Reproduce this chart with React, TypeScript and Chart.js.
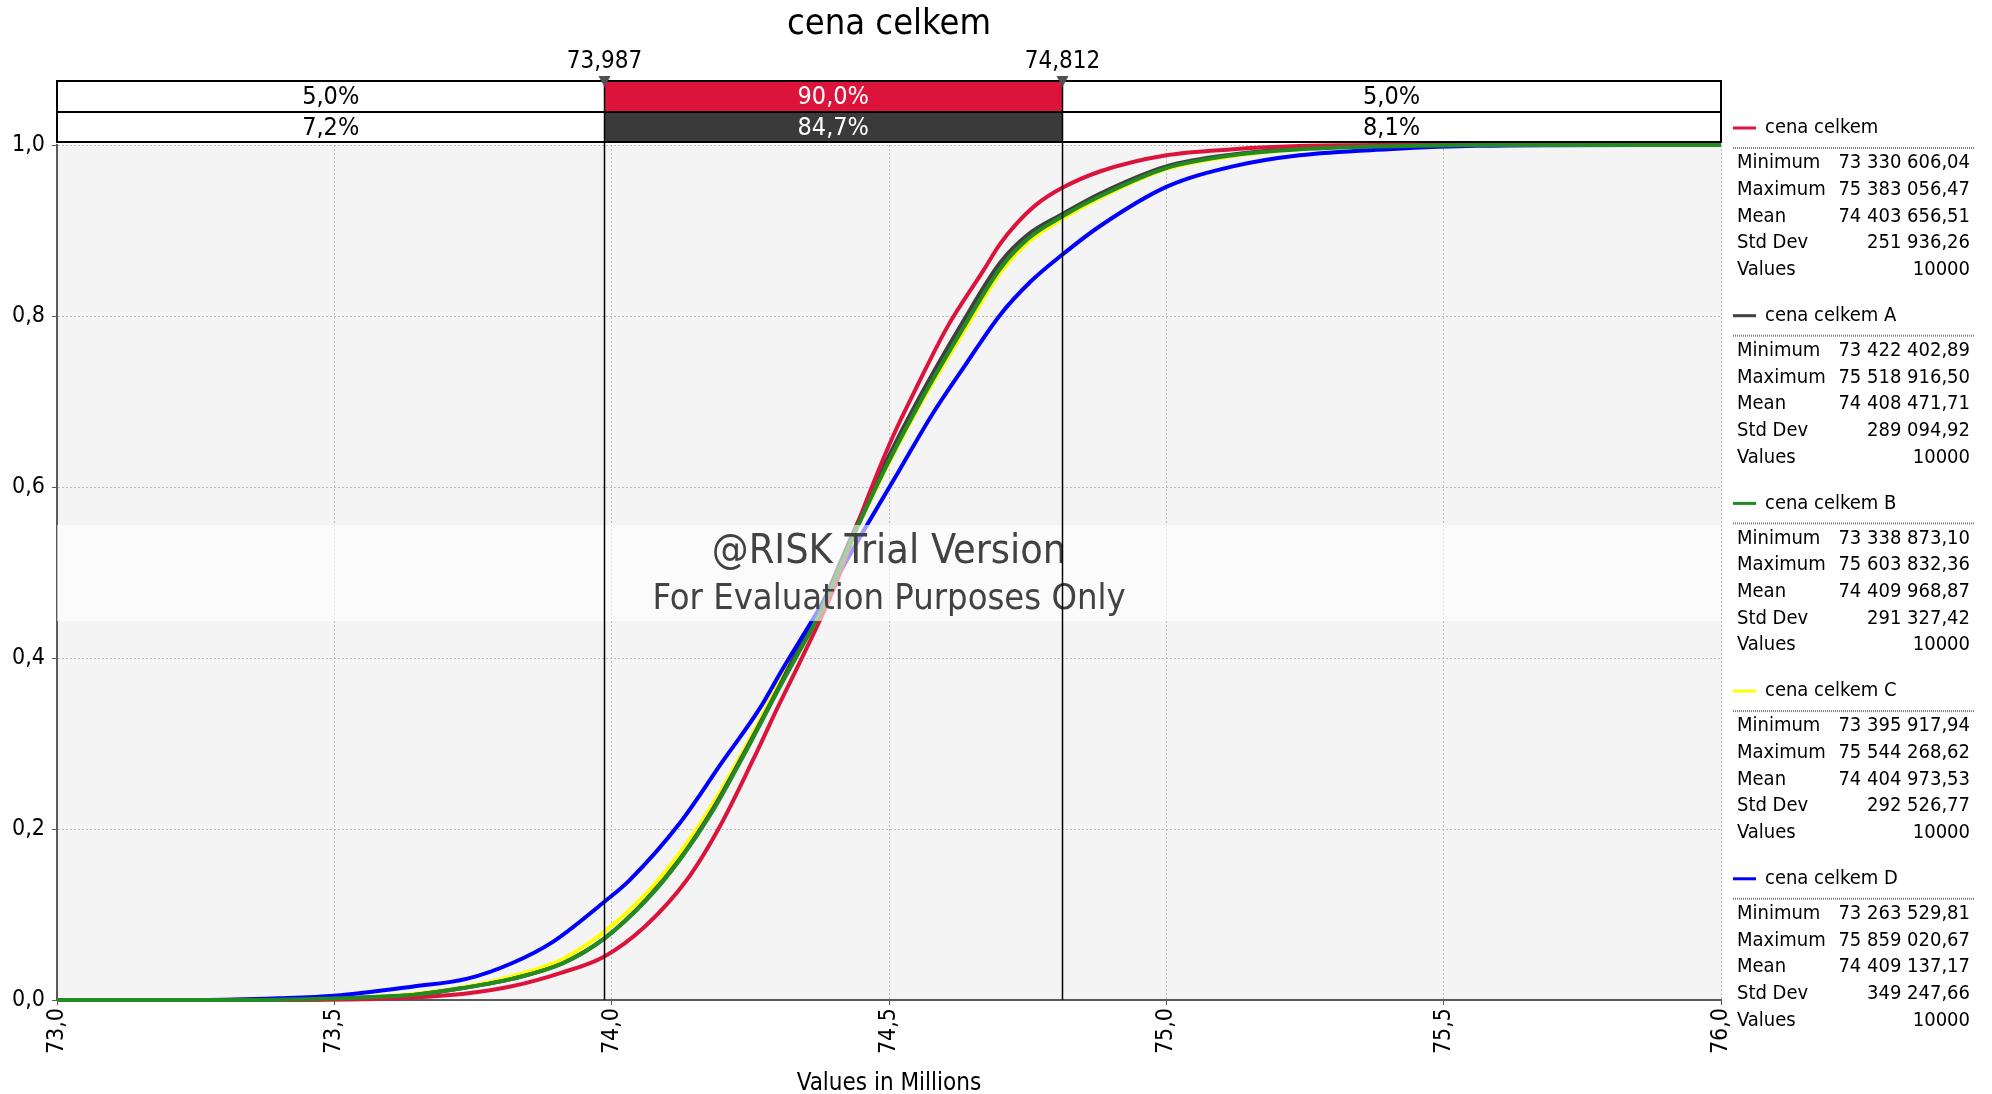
import React, { useEffect, useRef } from 'react';
import { Chart, registerables } from 'chart.js';

Chart.register(...registerables);

const FONT = "'DejaVu Sans Condensed', 'DejaVu Sans', sans-serif";

const chartTitle = 'cena celkem';
const xAxisTitle = 'Values in Millions';

const seriesNames = ['cena celkem', 'cena celkem A', 'cena celkem B', 'cena celkem C', 'cena celkem D'];
const seriesColors = ['#DC143C', '#404040', '#228B22', '#FFFF00', '#0000FF'];
const seriesOrder = [1, 3, 0, 4, 2];

const redX = [73.0, 73.33, 73.55, 73.64, 73.73, 73.82, 73.91, 73.987, 74.06, 74.135, 74.195, 74.255, 74.3, 74.34, 74.4, 74.46, 74.507, 74.55, 74.605, 74.67, 74.7, 74.73, 74.765, 74.81, 74.88, 75.0, 75.12, 75.25, 75.38, 76.0];
const redP = [0, 0, 0.001, 0.003, 0.007, 0.016, 0.032, 0.051, 0.086, 0.14, 0.203, 0.281, 0.343, 0.396, 0.48, 0.585, 0.659, 0.717, 0.787, 0.853, 0.884, 0.908, 0.93, 0.949, 0.969, 0.988, 0.995, 0.999, 1.0, 1.0];

const grayX = [73.0, 73.42, 73.55, 73.642, 73.732, 73.822, 73.912, 73.987, 74.063, 74.123, 74.183, 74.243, 74.303, 74.336, 74.375, 74.441, 74.495, 74.555, 74.633, 74.7, 74.75, 74.812, 74.88, 75.0, 75.12, 75.24, 75.4, 75.52, 76.0];
const grayP = [0, 0, 0.003, 0.006, 0.014, 0.025, 0.043, 0.072, 0.118, 0.165, 0.224, 0.294, 0.368, 0.41, 0.457, 0.555, 0.63, 0.705, 0.793, 0.862, 0.895, 0.919, 0.943, 0.975, 0.989, 0.996, 0.999, 1.0, 1.0];

const greenX = [73.0, 73.34, 73.45, 73.55, 73.642, 73.732, 73.822, 73.912, 73.987, 74.063, 74.123, 74.183, 74.243, 74.303, 74.336, 74.375, 74.441, 74.495, 74.555, 74.633, 74.7, 74.75, 74.811, 74.88, 75.0, 75.12, 75.24, 75.45, 75.6, 76.0];
const greenP = [0, 0, 0.001, 0.003, 0.006, 0.014, 0.025, 0.043, 0.072, 0.117, 0.164, 0.222, 0.292, 0.366, 0.405, 0.452, 0.55, 0.624, 0.698, 0.785, 0.855, 0.89, 0.916, 0.94, 0.973, 0.988, 0.995, 0.999, 1.0, 1.0];

const yellowX = [73.0, 73.4, 73.55, 73.642, 73.732, 73.822, 73.912, 73.987, 74.063, 74.123, 74.183, 74.243, 74.303, 74.336, 74.375, 74.441, 74.495, 74.555, 74.633, 74.7, 74.75, 74.811, 74.88, 75.0, 75.12, 75.24, 75.4, 75.54, 76.0];
const yellowP = [0, 0, 0.003, 0.007, 0.015, 0.028, 0.048, 0.08, 0.125, 0.172, 0.23, 0.298, 0.372, 0.41, 0.455, 0.55, 0.622, 0.695, 0.78, 0.85, 0.886, 0.913, 0.938, 0.972, 0.987, 0.995, 0.999, 1.0, 1.0];

const blueX = [73.0, 73.26, 73.4, 73.5, 73.64, 73.74, 73.82, 73.894, 73.987, 74.032, 74.123, 74.2, 74.267, 74.309, 74.369, 74.459, 74.519, 74.579, 74.64, 74.7, 74.755, 74.811, 74.88, 75.0, 75.12, 75.24, 75.4, 75.56, 75.86, 76.0];
const blueP = [0, 0, 0.002, 0.005, 0.0156, 0.025, 0.043, 0.068, 0.115, 0.14, 0.207, 0.279, 0.341, 0.388, 0.452, 0.554, 0.62, 0.686, 0.745, 0.801, 0.84, 0.871, 0.905, 0.951, 0.975, 0.988, 0.995, 0.999, 1.0, 1.0];

const seriesX = [redX, grayX, greenX, yellowX, blueX];
const seriesP = [redP, grayP, greenP, yellowP, blueP];

const statLabels = ['Minimum', 'Maximum', 'Mean', 'Std Dev', 'Values'];
const statsRed = ['73 330 606,04', '75 383 056,47', '74 403 656,51', '251 936,26', '10000'];
const statsA = ['73 422 402,89', '75 518 916,50', '74 408 471,71', '289 094,92', '10000'];
const statsB = ['73 338 873,10', '75 603 832,36', '74 409 968,87', '291 327,42', '10000'];
const statsC = ['73 395 917,94', '75 544 268,62', '74 404 973,53', '292 526,77', '10000'];
const statsD = ['73 263 529,81', '75 859 020,67', '74 409 137,17', '349 247,66', '10000'];
const seriesStats = [statsRed, statsA, statsB, statsC, statsD];

const markerValues = [73.987, 74.812];
const markerLabels = ['73,987', '74,812'];
const row1Pct = ['5,0%', '90,0%', '5,0%'];
const row2Pct = ['7,2%', '84,7%', '8,1%'];
const row1Mid = '#DC143C';
const row2Mid = '#3A3A3A';

const watermark1 = '@RISK Trial Version';
const watermark2 = 'For Evaluation Purposes Only';

const overlayPlugin = {
  id: 'overlay',
  beforeDraw(chart: any) {
    const { ctx, chartArea } = chart;
    ctx.save();
    ctx.fillStyle = '#ffffff';
    ctx.fillRect(0, 0, chart.width, chart.height);
    ctx.fillStyle = '#f4f4f4';
    ctx.fillRect(chartArea.left, chartArea.top, chartArea.right - chartArea.left, chartArea.bottom - chartArea.top);
    ctx.restore();
  },
  afterDatasetsDraw(chart: any) {
    const { ctx, chartArea, scales } = chart;
    const xs = scales.x;
    ctx.save();
    ctx.fillStyle = 'rgba(255,255,255,0.6)';
    ctx.fillRect(chartArea.left, 525, chartArea.right - chartArea.left, 96);
    const cx = (chartArea.left + chartArea.right) / 2;
    ctx.fillStyle = '#424242';
    ctx.textAlign = 'center';
    ctx.textBaseline = 'alphabetic';
    ctx.font = `41px ${FONT}`;
    ctx.fillText(watermark1, cx, 563);
    ctx.font = `36px ${FONT}`;
    ctx.fillText(watermark2, cx, 609);
    ctx.strokeStyle = '#000000';
    ctx.lineWidth = 1.5;
    markerValues.forEach((v) => {
      const px = Math.round(xs.getPixelForValue(v)) + 0.5;
      ctx.beginPath();
      ctx.moveTo(px, 80);
      ctx.lineTo(px, chartArea.bottom);
      ctx.stroke();
    });
    ctx.restore();
  },
  afterDraw(chart: any) {
    const { ctx, chartArea, scales } = chart;
    const xs = scales.x;
    const L = chartArea.left;
    const R = chartArea.right;
    const cx = (L + R) / 2;
    ctx.save();
    ctx.fillStyle = '#000000';
    ctx.textAlign = 'center';
    ctx.textBaseline = 'middle';
    ctx.font = `36px ${FONT}`;
    ctx.fillText(chartTitle, cx, 25);

    const m1 = xs.getPixelForValue(markerValues[0]);
    const m2 = xs.getPixelForValue(markerValues[1]);
    const rows = [
      { top: 81, h: 31, pct: row1Pct, mid: row1Mid },
      { top: 112, h: 30, pct: row2Pct, mid: row2Mid },
    ];
    const segs = [
      [L, m1],
      [m1, m2],
      [m2, R],
    ];
    rows.forEach((row) => {
      segs.forEach((s, i) => {
        ctx.fillStyle = i === 1 ? row.mid : '#ffffff';
        ctx.fillRect(s[0], row.top, s[1] - s[0], row.h);
      });
      ctx.font = `25px ${FONT}`;
      segs.forEach((s, i) => {
        ctx.fillStyle = i === 1 ? '#ffffff' : '#000000';
        ctx.fillText(row.pct[i], (s[0] + s[1]) / 2, row.top + row.h / 2 + 1);
      });
    });
    ctx.strokeStyle = '#000000';
    ctx.lineWidth = 2;
    ctx.strokeRect(L, 81, R - L, 61);
    ctx.beginPath();
    ctx.moveTo(L, 112);
    ctx.lineTo(R, 112);
    ctx.stroke();
    ctx.lineWidth = 1.5;
    [m1, m2].forEach((m) => {
      const px = Math.round(m) + 0.5;
      ctx.beginPath();
      ctx.moveTo(px, 81);
      ctx.lineTo(px, 142);
      ctx.stroke();
    });

    [m1, m2].forEach((m, i) => {
      const px = Math.round(m) + 0.5;
      ctx.fillStyle = '#505050';
      ctx.beginPath();
      ctx.moveTo(px - 6, 76);
      ctx.lineTo(px + 6, 76);
      ctx.lineTo(px, 87);
      ctx.closePath();
      ctx.fill();
      ctx.fillStyle = '#000000';
      ctx.font = `24px ${FONT}`;
      ctx.textAlign = 'center';
      ctx.textBaseline = 'middle';
      ctx.fillText(markerLabels[i], px, 62);
    });

    ctx.fillStyle = '#000000';
    ctx.font = `24px ${FONT}`;
    ctx.textAlign = 'center';
    ctx.textBaseline = 'middle';
    ctx.fillText(xAxisTitle, cx, 1084);

    seriesNames.forEach((name, i) => {
      const by = 128 + i * 187.7;
      ctx.strokeStyle = seriesColors[i];
      ctx.lineWidth = 3;
      ctx.beginPath();
      ctx.moveTo(1733, by);
      ctx.lineTo(1756, by);
      ctx.stroke();
      ctx.fillStyle = '#000000';
      ctx.font = `20px ${FONT}`;
      ctx.textAlign = 'left';
      ctx.textBaseline = 'middle';
      ctx.fillText(name, 1765, by);
      ctx.strokeStyle = '#7a7a7a';
      ctx.lineWidth = 2;
      ctx.setLineDash([1, 1]);
      ctx.beginPath();
      ctx.moveTo(1733, by + 20);
      ctx.lineTo(1975, by + 20);
      ctx.stroke();
      ctx.setLineDash([]);
      statLabels.forEach((lab, j) => {
        const ry = by + 35 + j * 26.7;
        ctx.textAlign = 'left';
        ctx.fillText(lab, 1737, ry);
        ctx.textAlign = 'right';
        ctx.fillText(seriesStats[i][j], 1970, ry);
      });
    });
    ctx.restore();
  },
};

export default function App() {
  const canvasRef = useRef<HTMLCanvasElement | null>(null);

  useEffect(() => {
    document.body.style.margin = '0';
    const canvas = canvasRef.current;
    if (!canvas) return;
    Chart.defaults.font.family = FONT;
    const datasets = seriesNames.map((name, i) => ({
      label: name,
      data: seriesX[i].map((x, k) => ({ x, y: seriesP[i][k] })),
      borderColor: seriesColors[i],
      backgroundColor: seriesColors[i],
      borderWidth: 4,
      pointRadius: 0,
      fill: false,
      cubicInterpolationMode: 'monotone' as const,
      order: seriesOrder[i],
      clip: 4,
    }));
    const chart = new Chart(canvas, {
      type: 'line',
      data: { datasets },
      options: {
        animation: false,
        responsive: false,
        devicePixelRatio: 1,
        layout: { padding: { left: 7, right: 271, top: 145, bottom: 0 } },
        plugins: {
          legend: { display: false },
          title: { display: false },
          tooltip: { enabled: false },
        },
        scales: {
          x: {
            type: 'linear',
            min: 73,
            max: 76,
            afterFit: (s: any) => {
              s.height = 94;
            },
            ticks: {
              stepSize: 0.5,
              autoSkip: false,
              maxRotation: 90,
              minRotation: 90,
              padding: 3,
              color: '#000000',
              font: { size: 23, family: FONT },
              callback: (v: any) => Number(v).toFixed(1).replace('.', ','),
            },
            grid: {
              color: '#bdbdbd',
              lineWidth: 1,
              tickLength: 5,
              tickColor: '#555555',
              tickBorderDash: [],
            },
            border: { display: true, color: '#5a5a5a', width: 2, dash: [2, 2] },
          },
          y: {
            type: 'linear',
            min: 0,
            max: 1,
            afterFit: (s: any) => {
              s.width = 50;
            },
            ticks: {
              stepSize: 0.2,
              padding: 7,
              color: '#000000',
              font: { size: 23, family: FONT },
              callback: (v: any) => Number(v).toFixed(1).replace('.', ','),
            },
            grid: {
              color: '#bdbdbd',
              lineWidth: 1,
              tickLength: 5,
              tickColor: '#555555',
              tickBorderDash: [],
            },
            border: { display: true, color: '#5a5a5a', width: 2, dash: [2, 2] },
          },
        },
      },
      plugins: [overlayPlugin],
    });
    return () => chart.destroy();
  }, []);

  return (
    <div style={{ width: 1992, height: 1094, position: 'relative', background: '#ffffff' }}>
      <canvas ref={canvasRef} width={1992} height={1094} style={{ display: 'block' }} />
    </div>
  );
}
